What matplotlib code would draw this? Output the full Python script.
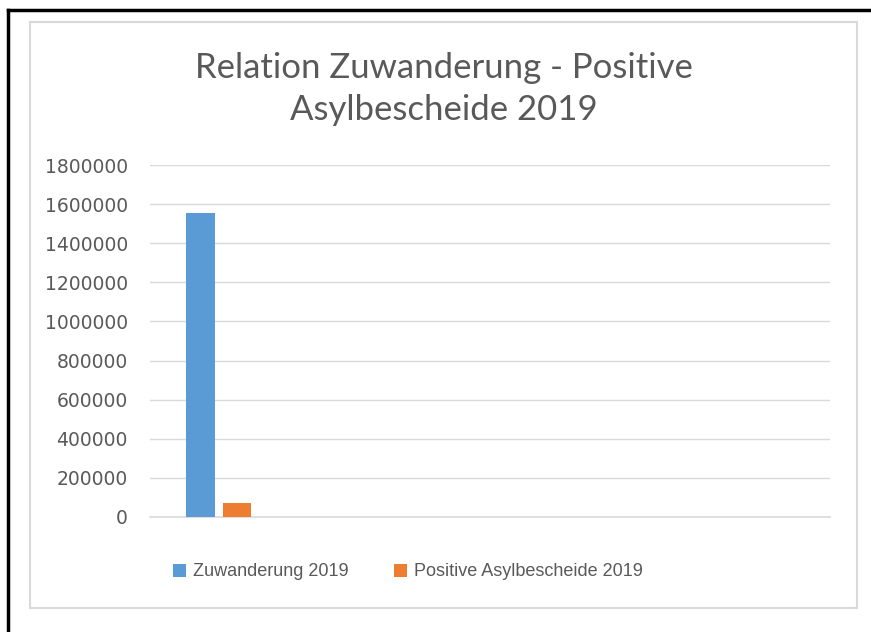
import matplotlib.pyplot as plt
from matplotlib.lines import Line2D
from matplotlib.patches import Rectangle

# Datos
series = ['Zuwanderung 2019', 'Positive Asylbescheide 2019']
werte = [1554000, 72000]
farben = ['#5B9BD5', '#ED7D31']
y_ticks = list(range(0, 1800001, 200000))

titel_font = ['Lato', 'DejaVu Sans']
tick_font = ['DejaVu Sans']
legend_font = ['Liberation Sans', 'DejaVu Sans']
grau = '#595959'

fig = plt.figure(figsize=(8.71, 6.32), dpi=100)

# Rahmen (Screenshot: oben und links schwarz, innen grau)
fig.add_artist(Line2D([8 / 871, 1.0], [1 - 10 / 632] * 2, color='black', lw=2.5))
fig.add_artist(Line2D([8 / 871] * 2, [0, 1 - 10 / 632], color='black', lw=2.5))
fig.add_artist(Rectangle((30 / 871, 1 - 608 / 632), (857 - 30) / 871, (608 - 22) / 632,
                         fill=False, edgecolor='#D9D9D9', lw=1.5))

ax = fig.add_axes([150 / 871, 1 - 517 / 632, (830 - 150) / 871, (517 - 165) / 632])

for i, (name, wert, farbe) in enumerate(zip(series, werte, farben)):
    ax.bar(i, wert, width=0.78, color=farbe, label=name, zorder=3)

ax.set_xlim(-1.38, 17.25)
ax.set_ylim(0, 1800000)
ax.set_yticks(y_ticks)
ax.set_yticklabels([str(t) for t in y_ticks], fontsize=13.5, color=grau, family=tick_font)
ax.set_xticks([])
ax.tick_params(axis='y', length=0, pad=16)
ax.yaxis.grid(True, color='#D9D9D9', lw=1, zorder=0)
for s in ['top', 'right', 'left']:
    ax.spines[s].set_visible(False)
ax.spines['bottom'].set_color('#D9D9D9')
ax.spines['bottom'].set_linewidth(1.2)

fig.text(444 / 871, 1 - 68 / 632, 'Relation Zuwanderung - Positive',
         ha='center', va='center', fontsize=25, color=grau, family=titel_font)
fig.text(444 / 871, 1 - 110 / 632, 'Asylbescheide 2019',
         ha='center', va='center', fontsize=25, color=grau, family=titel_font)

fig.legend(loc='center', bbox_to_anchor=(408 / 871, 1 - 572 / 632), ncol=2, frameon=False,
           prop={'family': legend_font, 'size': 13}, labelcolor=grau,
           handlelength=0.7, handleheight=0.7, handletextpad=0.4, columnspacing=2.5)

fig.savefig('out.png', dpi=100)
